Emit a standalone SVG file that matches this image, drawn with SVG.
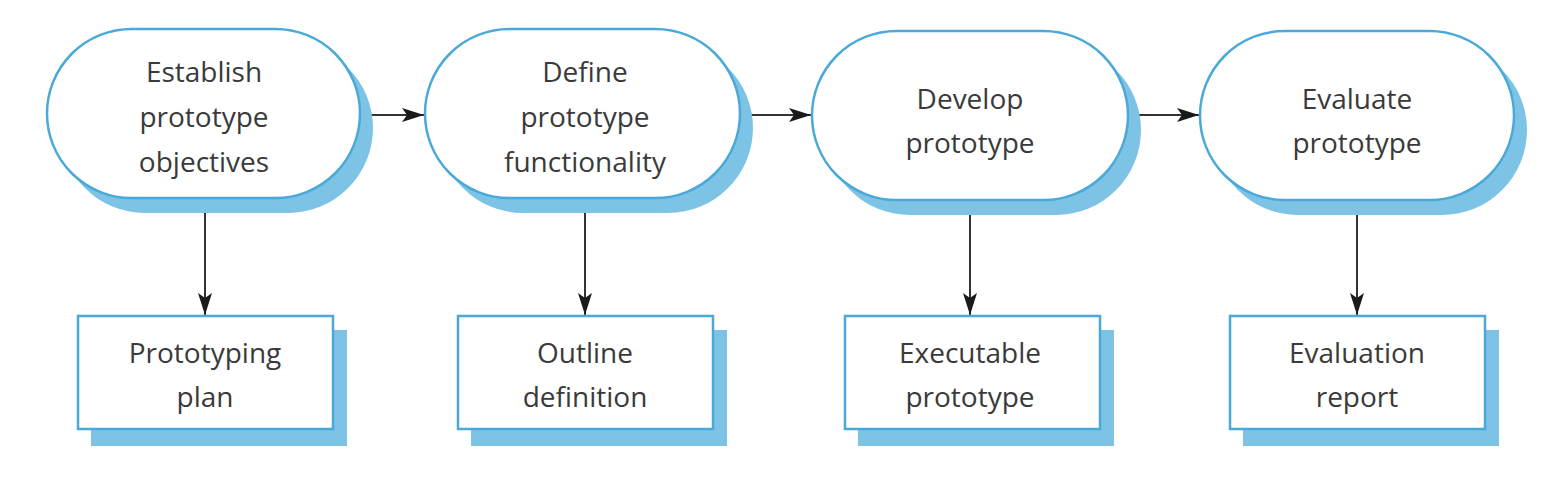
<svg xmlns="http://www.w3.org/2000/svg" width="1554" height="490" viewBox="0 0 1554 490">
<defs>
<marker id="ah" markerWidth="22" markerHeight="14" refX="22" refY="7" orient="auto" markerUnits="userSpaceOnUse">
<path d="M0,0 L22,7 L0,14 L5,7 Z" fill="#1a1a1a"/>
</marker>
</defs>
<style>
.shadow{fill:#7cc3e6;}
.stad{fill:#ffffff;stroke:#4aa9d8;stroke-width:2.5;}
.box{fill:#ffffff;stroke:#4aa9d8;stroke-width:2.5;}
text{font-family:"Open Sans","Liberation Sans",sans-serif;font-size:28px;fill:#3a3a3a;text-anchor:middle;}
.conn{stroke:#333;stroke-width:2;fill:none;marker-end:url(#ah);}
</style>
<rect width="1554" height="490" fill="#ffffff"/>
<g id="connectors">
<line class="conn" x1="361" y1="115" x2="424" y2="115"/>
<line class="conn" x1="741" y1="115" x2="811" y2="115"/>
<line class="conn" x1="1129" y1="115" x2="1199" y2="115"/>
<line class="conn" x1="205" y1="199" x2="205" y2="315"/>
<line class="conn" x1="585" y1="199" x2="585" y2="315"/>
<line class="conn" x1="970" y1="201" x2="970" y2="315"/>
<line class="conn" x1="1357" y1="201" x2="1357" y2="315"/>
</g>
<g id="n1">
<rect class="shadow" x="60" y="43" width="313" height="170" rx="85"/>
<rect class="stad" x="47" y="29" width="313" height="169" rx="84.5"/>
<text x="204" y="82">Establish</text>
<text x="204" y="127">prototype</text>
<text x="204" y="172">objectives</text>
</g>
<g id="n2">
<rect class="shadow" x="438" y="43" width="315" height="170" rx="85"/>
<rect class="stad" x="425" y="29" width="315" height="169" rx="84.5"/>
<text x="585" y="82">Define</text>
<text x="585" y="127">prototype</text>
<text x="585" y="172">functionality</text>
</g>
<g id="n3">
<rect class="shadow" x="825" y="45" width="316" height="170" rx="85"/>
<rect class="stad" x="812" y="31" width="316" height="169" rx="84.5"/>
<text x="970" y="109">Develop</text>
<text x="970" y="153">prototype</text>
</g>
<g id="n4">
<rect class="shadow" x="1213" y="45" width="314" height="170" rx="85"/>
<rect class="stad" x="1200" y="31" width="314" height="169" rx="84.5"/>
<text x="1357" y="109">Evaluate</text>
<text x="1357" y="153">prototype</text>
</g>
<g id="b1">
<rect class="shadow" x="91" y="330" width="256" height="116"/>
<rect class="box" x="78" y="316" width="255" height="113"/>
<text x="205" y="363">Prototyping</text>
<text x="205" y="407">plan</text>
</g>
<g id="b2">
<rect class="shadow" x="471" y="330" width="256" height="116"/>
<rect class="box" x="458" y="316" width="255" height="113"/>
<text x="585" y="363">Outline</text>
<text x="585" y="407">definition</text>
</g>
<g id="b3">
<rect class="shadow" x="858" y="330" width="256" height="116"/>
<rect class="box" x="845" y="316" width="255" height="113"/>
<text x="970" y="363">Executable</text>
<text x="970" y="407">prototype</text>
</g>
<g id="b4">
<rect class="shadow" x="1243" y="330" width="256" height="116"/>
<rect class="box" x="1230" y="316" width="255" height="113"/>
<text x="1357" y="363">Evaluation</text>
<text x="1357" y="407">report</text>
</g>
</svg>
